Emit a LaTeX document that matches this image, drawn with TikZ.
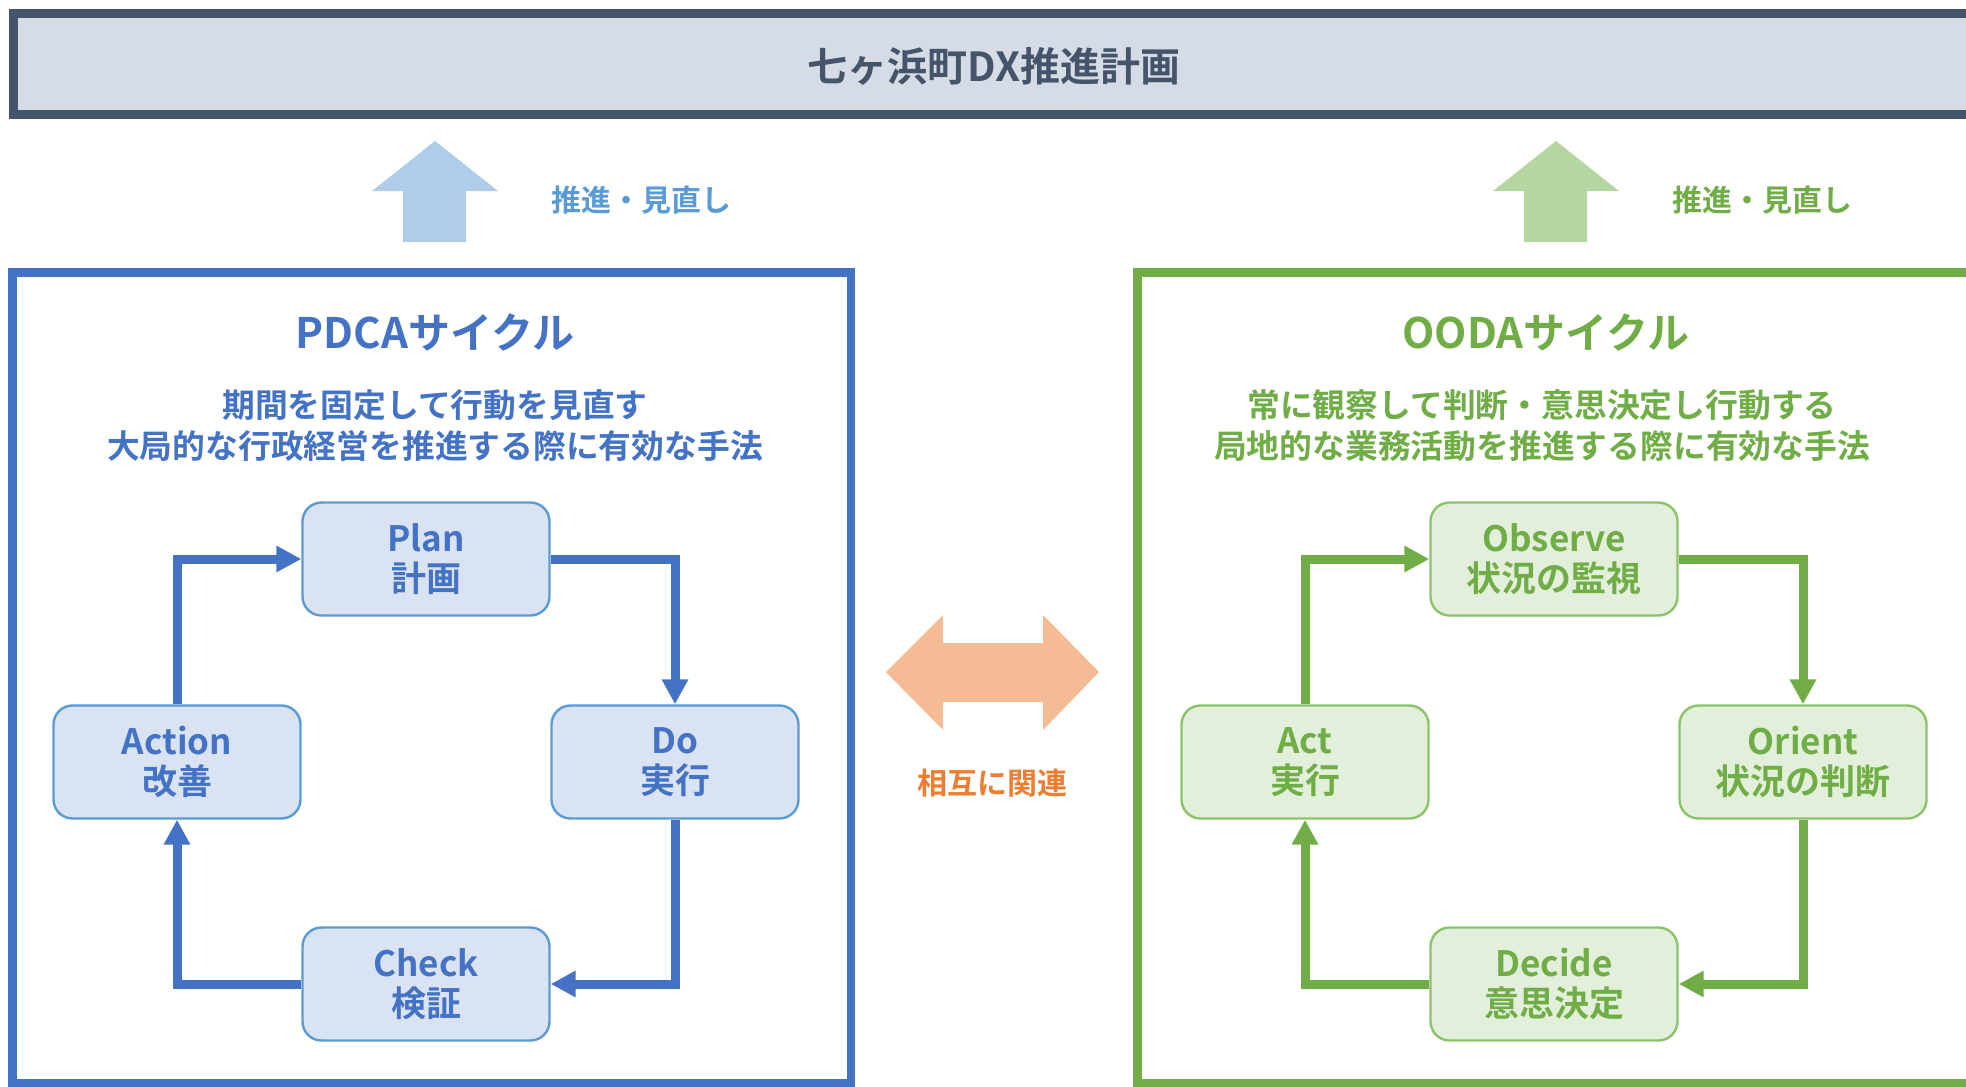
\documentclass[tikz,border=0pt]{standalone}
\usepackage{fontspec}
\setmainfont{Noto Sans CJK JP}[BoldFont={Noto Sans CJK JP Bold}]
\usetikzlibrary{arrows.meta}
\definecolor{slate}{HTML}{44546A}
\definecolor{slatefill}{HTML}{D6DCE5}
\definecolor{pblue}{HTML}{4472C4}
\definecolor{pblueline}{HTML}{5B9BD5}
\definecolor{pbluefill}{HTML}{DAE3F3}
\definecolor{pbluearrow}{HTML}{AFCDEB}
\definecolor{ogreen}{HTML}{70AD47}
\definecolor{ogreenline}{HTML}{8CC26A}
\definecolor{ogreenfill}{HTML}{E2EFDA}
\definecolor{ogreenarrow}{HTML}{B4D6A0}
\definecolor{orangetxt}{HTML}{ED7D31}
\definecolor{orangearrow}{HTML}{F4BB94}
\begin{document}
\begin{tikzpicture}[x=0.5pt,y=-0.5pt,
  cyclebox/.style={rounded corners=9.5pt, minimum width=123.5pt, minimum height=56.5pt,
    inner sep=0pt, align=center, line width=1.2pt,
    font=\fontsize{17.5}{20}\selectfont\bfseries},
  pbox/.style={cyclebox, draw=pblueline, fill=pbluefill, text=pblue},
  gbox/.style={cyclebox, draw=ogreenline, fill=ogreenfill, text=ogreen},
  conn/.style={line width=4.5pt, -{Triangle[width=12.5pt,length=12.5pt]}},
  frame/.style={line width=4.4pt},
  ttl/.style={font=\fontsize{21}{24}\selectfont\bfseries},
  sub/.style={font=\fontsize{16.4}{20.5}\selectfont\bfseries, align=center},
  lbl/.style={font=\fontsize{15}{18}\selectfont\bfseries}
]
\useasboundingbox (0,0) rectangle (1966,1087);

% banner
\draw[line width=4.5pt, draw=slate, fill=slatefill] (13,13.7) rectangle (1990,114.5);
\node[font=\fontsize{20}{24}\selectfont\bfseries, text=slate] (banner) at (994,66) {七ヶ浜町DX推進計画};

% up arrows
\fill[pbluearrow] (435,141) -- (498,191) -- (466,191) -- (466,242) -- (403,242) -- (403,191) -- (372,191) -- cycle;
\node[lbl, text=pblueline] (pup) at (641,200) {推進・見直し};
\fill[ogreenarrow] (1556,141) -- (1619,191) -- (1587,191) -- (1587,242) -- (1524,242) -- (1524,191) -- (1493,191) -- cycle;
\node[lbl, text=ogreen] (gup) at (1762,200) {推進・見直し};

% frames
\draw[frame, draw=pblue] (12.8,272.5) rectangle (851,1083);
\draw[frame, draw=ogreen] (1137.8,272.5) rectangle (1990,1083);

% titles
\node[ttl, text=pblue] (pdcat) at (435,332) {PDCAサイクル};
\node[sub, text=pblue] (pdcas) at (435,425.5) {期間を固定して行動を見直す\\大局的な行政経営を推進する際に有効な手法};
\node[ttl, text=ogreen] (oodat) at (1546,332) {OODAサイクル};
\node[sub, text=ogreen] (oodas) at (1542,425.5) {常に観察して判断・意思決定し行動する\\局地的な業務活動を推進する際に有効な手法};

% double arrow
\fill[orangearrow] (886,672) -- (943,615) -- (943,643) -- (1043,643) -- (1043,615) -- (1099,672)
  -- (1043,730) -- (1043,702) -- (943,702) -- (943,730) -- cycle;
\node[lbl, text=orangetxt] (rel) at (992,783) {相互に関連};

% PDCA nodes
\node[pbox] (plan) at (426,559) {Plan\\計画};
\node[pbox] (do) at (675,762) {Do\\実行};
\node[pbox] (check) at (426,984) {Check\\検証};
\node[pbox] (action) at (177,762) {Action\\改善};
\draw[conn, pblue] (plan.east) -| (do.north);
\draw[conn, pblue] (do.south) |- (check.east);
\draw[conn, pblue] (check.west) -| (action.south);
\draw[conn, pblue] (action.north) |- (plan.west);

% OODA nodes
\node[gbox] (observe) at (1554,559) {Observe\\状況の監視};
\node[gbox] (orient) at (1803,762) {Orient\\状況の判断};
\node[gbox] (decide) at (1554,984) {Decide\\意思決定};
\node[gbox] (act) at (1305,762) {Act\\実行};
\draw[conn, ogreen] (observe.east) -| (orient.north);
\draw[conn, ogreen] (orient.south) |- (decide.east);
\draw[conn, ogreen] (decide.west) -| (act.south);
\draw[conn, ogreen] (act.north) |- (observe.west);
\end{tikzpicture}
\end{document}
